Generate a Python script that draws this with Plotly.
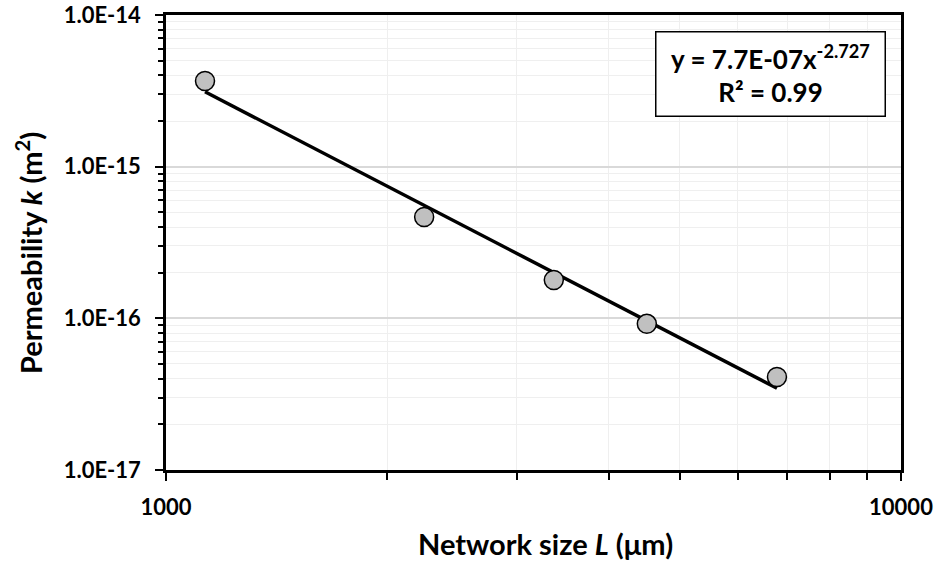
import numpy as np
import plotly.graph_objects as go

# Data
network_size_um = [1130, 2245, 3370, 4510, 6780]
permeability_m2 = [3.67e-15, 4.66e-16, 1.79e-16, 9.2e-17, 4.1e-17]

y_tick_vals = [1e-17, 1e-16, 1e-15, 1e-14]
y_tick_text = ["1.0E-17", "1.0E-16", "1.0E-15", "1.0E-14"]
x_tick_vals = [1000, 10000]
x_tick_text = ["1000", "10000"]

x_title = "Network size <i>L</i> (μm)"
y_title = "Permeability <i>k</i> (m<sup>2</sup>)"
equation_text = "y = 7.7E-07x<sup>-2.727</sup><br>R² = 0.99"

# Power-law trend line fitted to the points (log-log least squares)
lx = np.log10(network_size_um)
ly = np.log10(permeability_m2)
slope, intercept = np.polyfit(lx, ly, 1)
trend_x = [network_size_um[0], network_size_um[-1]]
trend_y = [10 ** (intercept + slope * np.log10(v)) for v in trend_x]

FONT = "Lato"
PL, PR, PT, PB = 166, 901, 15, 470  # plot-area pixel box
PW, PH = PR - PL, PB - PT

fig = go.Figure()
fig.add_trace(go.Scatter(
    x=trend_x, y=trend_y, mode="lines",
    line=dict(color="black", width=3.5), showlegend=False, hoverinfo="skip"))
fig.add_trace(go.Scatter(
    x=network_size_um, y=permeability_m2, mode="markers",
    marker=dict(size=19, color="#c0c0c0", line=dict(color="black", width=1.5)),
    showlegend=False))

x_minor = [m * 10 ** d for d in (3,) for m in range(2, 10)]
y_minor = [m * 10.0 ** d for d in (-17, -16, -15) for m in range(2, 10)]

fig.update_layout(
    width=938, height=561,
    margin=dict(l=PL, r=938 - PR, t=PT, b=561 - PB, autoexpand=False),
    plot_bgcolor="white", paper_bgcolor="white",
    font=dict(family=FONT, color="black"),
    xaxis=dict(
        type="log", range=[3, 4], automargin=False,
        tickmode="array", tickvals=x_tick_vals, ticktext=x_tick_text,
        ticks="outside", ticklen=8, tickwidth=2, tickcolor="black",
        showline=True, linecolor="black", linewidth=2.5, mirror=True,
        showgrid=True, gridcolor="#dcdcdc", gridwidth=1,
        tickfont=dict(size=22, family=FONT, weight="bold"),
        ticklabelstandoff=8,
        minor=dict(tickmode="array", tickvals=x_minor, ticks="outside",
                   ticklen=7, tickwidth=1.5, tickcolor="black",
                   showgrid=True, gridcolor="#efefef", gridwidth=1),
        zeroline=False,
    ),
    yaxis=dict(
        type="log", range=[-17, -14], automargin=False,
        tickmode="array", tickvals=y_tick_vals, ticktext=y_tick_text,
        ticks="outside", ticklen=8, tickwidth=2, tickcolor="black",
        showline=True, linecolor="black", linewidth=2.5, mirror=True,
        showgrid=True, gridcolor="#d9d9d9", gridwidth=1.5,
        tickfont=dict(size=22, family=FONT, weight="bold"),
        ticklabelstandoff=10,
        minor=dict(tickmode="array", tickvals=y_minor, ticks="outside",
                   ticklen=5, tickwidth=1.5, tickcolor="black",
                   showgrid=True, gridcolor="#efefef", gridwidth=1),
        zeroline=False,
    ),
    annotations=[
        dict(text=equation_text, xref="paper", yref="paper",
             x=(886 - PL) / PW, y=(PB - 31) / PH, xanchor="right", yanchor="top",
             showarrow=False, align="center",
             font=dict(size=26, family=FONT, weight="bold", color="black"),
             bordercolor="black", borderwidth=1.5, borderpad=3,
             bgcolor="white", width=222, height=77),
        dict(text=x_title, xref="paper", yref="paper",
             x=(545 - PL) / PW, y=(PB - 543) / PH, xanchor="center", yanchor="middle",
             showarrow=False,
             font=dict(size=29, family=FONT, weight="bold", color="black")),
        dict(text=y_title, xref="paper", yref="paper", textangle=-90,
             x=(29 - PL) / PW, y=(PB - 253) / PH, xanchor="center", yanchor="middle",
             showarrow=False,
             font=dict(size=29, family=FONT, weight="bold", color="black")),
    ],
)

fig.write_html("out.html")
